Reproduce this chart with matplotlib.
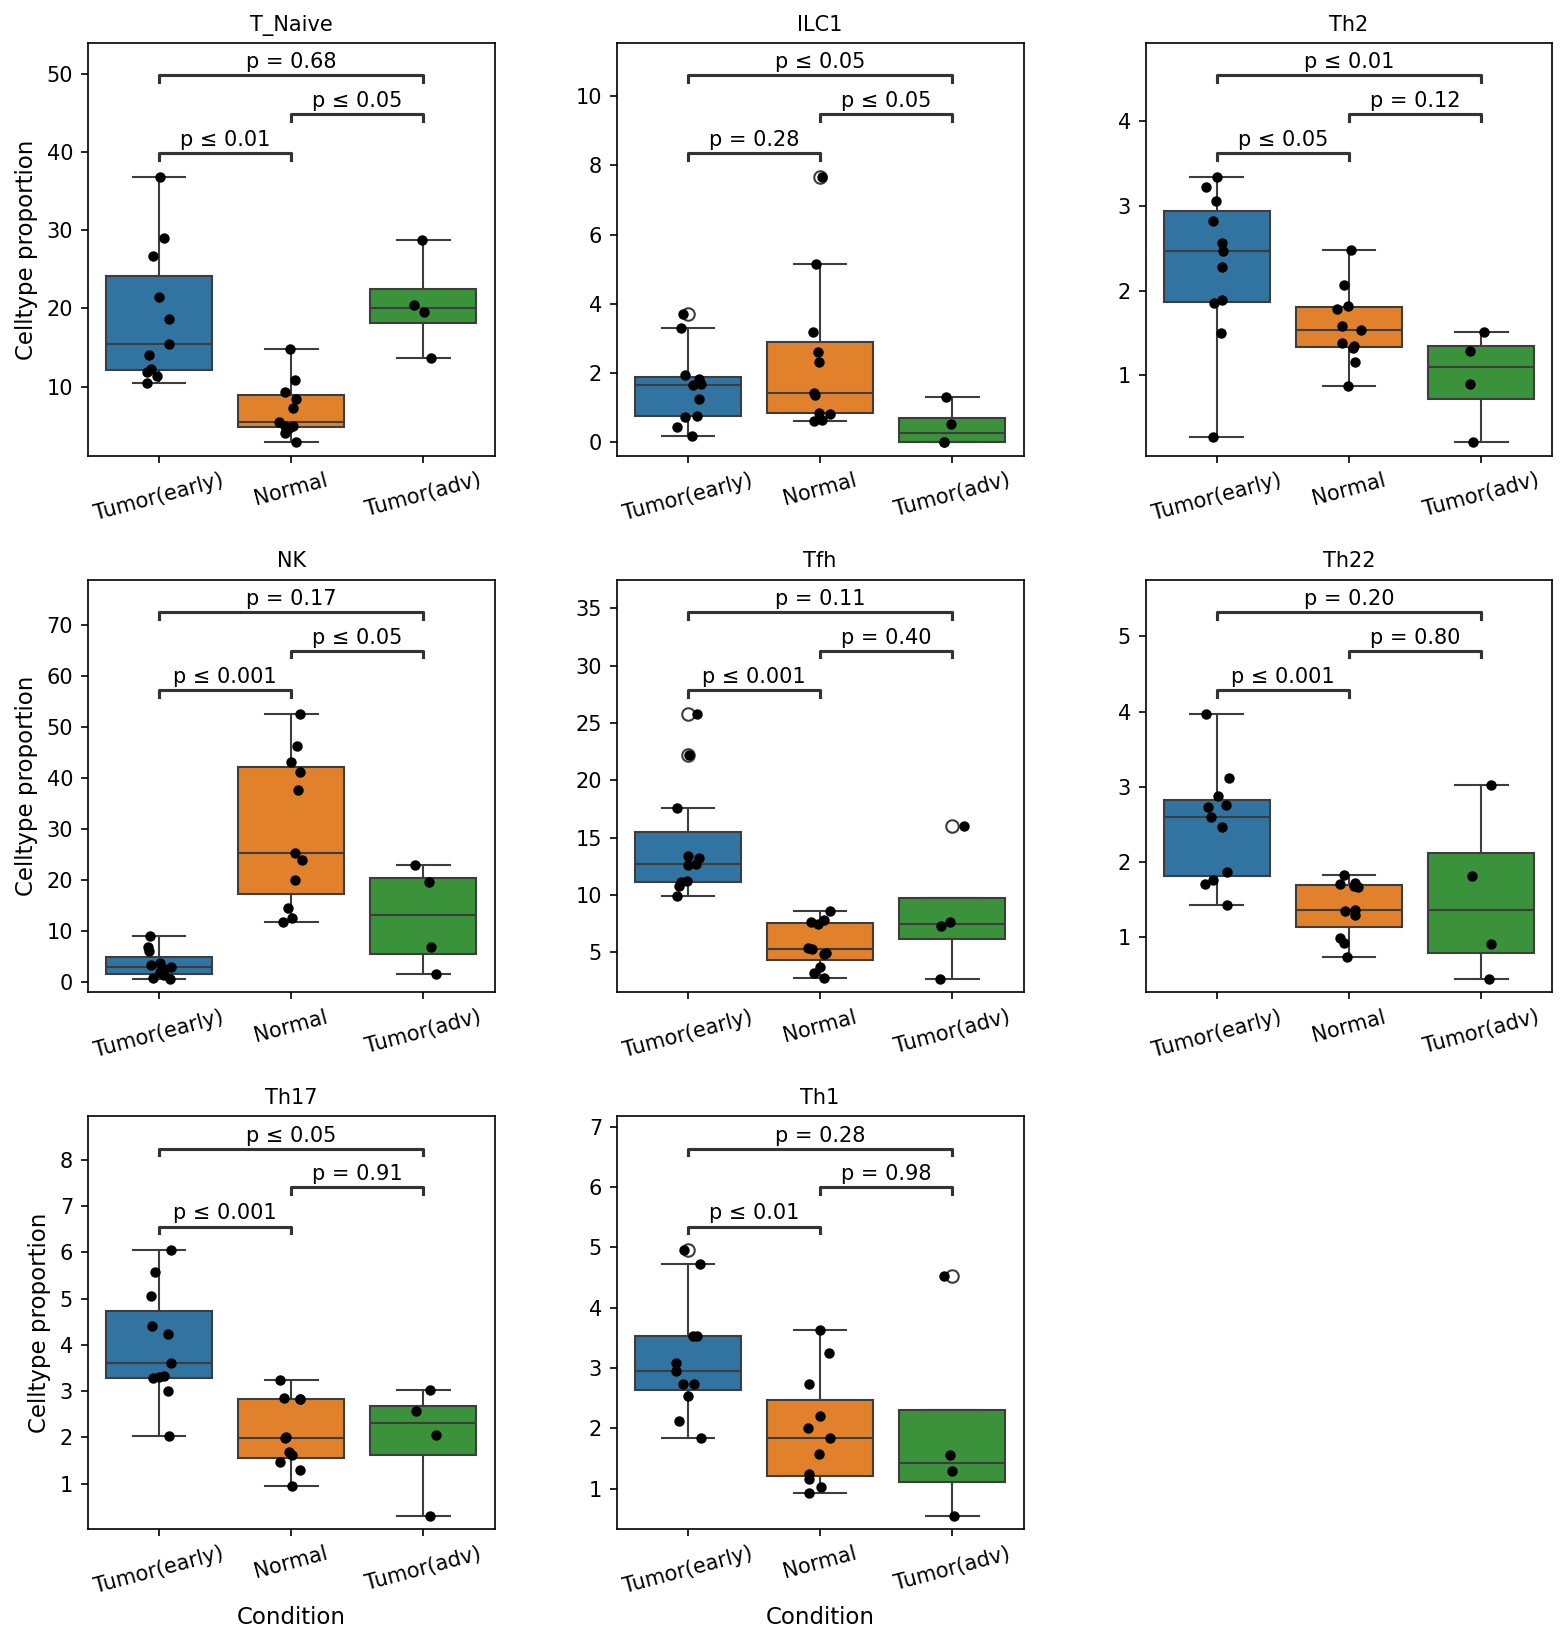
import numpy as np
import pandas as pd
import matplotlib
matplotlib.use('Agg')
import matplotlib.pyplot as plt
import seaborn as sns

# conditions in plot order
conditions = ['Tumor(early)', 'Normal', 'Tumor(adv)']

# celltype proportions, one list per condition
t_naive = {'Tumor(early)': [36.8, 29.0, 26.7, 21.5, 18.6, 15.4, 14.0, 12.3, 11.9, 11.4, 10.5],
           'Normal': [14.8, 10.85, 9.3, 8.45, 7.3, 5.5, 5.0, 4.95, 4.7, 4.05, 2.85],
           'Tumor(adv)': [28.7, 20.5, 19.6, 13.65]}
ilc1 = {'Tumor(early)': [3.70, 3.30, 1.94, 1.84, 1.68, 1.66, 1.26, 0.76, 0.74, 0.45, 0.19],
        'Normal': [7.66, 5.16, 3.20, 2.62, 2.33, 1.42, 1.38, 0.85, 0.83, 0.66, 0.61],
        'Tumor(adv)': [1.30, 0.52, 0.0, 0.0]}
th2 = {'Tumor(early)': [3.34, 3.22, 3.06, 2.82, 2.56, 2.47, 2.28, 1.89, 1.85, 1.50, 0.28],
       'Normal': [2.48, 2.07, 1.82, 1.79, 1.58, 1.54, 1.38, 1.35, 1.33, 1.16, 0.875],
       'Tumor(adv)': [1.51, 1.29, 0.90, 0.21]}
nk = {'Tumor(early)': [8.9, 6.7, 6.0, 3.7, 3.3, 2.8, 2.4, 1.8, 1.2, 0.65, 0.5],
      'Normal': [52.6, 46.3, 43.2, 41.2, 37.7, 25.2, 23.8, 19.9, 14.4, 12.4, 11.8],
      'Tumor(adv)': [22.9, 19.5, 6.7, 1.4]}
tfh = {'Tumor(early)': [25.8, 22.2, 17.57, 13.4, 13.2, 12.7, 12.6, 11.2, 11.1, 10.75, 9.9],
       'Normal': [8.58, 7.76, 7.65, 7.45, 5.4, 5.28, 4.95, 4.85, 3.7, 3.17, 2.73],
       'Tumor(adv)': [16.04, 7.6, 7.3, 2.65]}
th22 = {'Tumor(early)': [3.97, 3.12, 2.88, 2.76, 2.73, 2.59, 2.46, 1.86, 1.76, 1.71, 1.42],
        'Normal': [1.82, 1.72, 1.70, 1.68, 1.67, 1.36, 1.35, 1.29, 0.98, 0.92, 0.73],
        'Tumor(adv)': [3.02, 1.81, 0.90, 0.44]}
th17 = {'Tumor(early)': [6.04, 5.57, 5.06, 4.40, 4.24, 3.60, 3.33, 3.30, 3.28, 3.00, 2.03],
        'Normal': [3.24, 2.86, 2.84, 2.84, 2.01, 1.99, 1.69, 1.63, 1.47, 1.30, 0.94],
        'Tumor(adv)': [3.02, 2.57, 2.05, 0.31]}
th1 = {'Tumor(early)': [4.95, 4.73, 3.53, 3.53, 3.08, 2.95, 2.73, 2.73, 2.53, 2.13, 1.85],
       'Normal': [3.63, 3.25, 2.73, 2.21, 2.01, 1.85, 1.58, 1.25, 1.17, 1.03, 0.93],
       'Tumor(adv)': [4.53, 1.56, 1.29, 0.555]}

celltypes = ['T_Naive', 'ILC1', 'Th2', 'NK', 'Tfh', 'Th22', 'Th17', 'Th1']
celltype_data = [t_naive, ilc1, th2, nk, tfh, th22, th17, th1]

# p-value labels: early vs normal, normal vs adv, early vs adv
pvals = [['p ≤ 0.01', 'p ≤ 0.05', 'p = 0.68'],
         ['p = 0.28', 'p ≤ 0.05', 'p ≤ 0.05'],
         ['p ≤ 0.05', 'p = 0.12', 'p ≤ 0.01'],
         ['p ≤ 0.001', 'p ≤ 0.05', 'p = 0.17'],
         ['p ≤ 0.001', 'p = 0.40', 'p = 0.11'],
         ['p ≤ 0.001', 'p = 0.80', 'p = 0.20'],
         ['p ≤ 0.001', 'p = 0.91', 'p ≤ 0.05'],
         ['p ≤ 0.01', 'p = 0.98', 'p = 0.28']]
pairs = [(0, 1), (1, 2), (0, 2)]

np.random.seed(3)

fig, axes = plt.subplots(3, 3, figsize=(1568 / 150, 1644 / 150), dpi=150)
fig.subplots_adjust(left=0.0559, right=0.9901, top=0.9737, bottom=0.0700,
                    wspace=0.30, hspace=0.301)
axes = axes.flatten()

for i, (name, d) in enumerate(zip(celltypes, celltype_data)):
    ax = axes[i]
    rows = []
    for c in conditions:
        for v in d[c]:
            rows.append((c, v))
    df = pd.DataFrame(rows, columns=['Condition', 'proportion'])

    sns.boxplot(data=df, x='Condition', y='proportion', hue='Condition',
                order=conditions, hue_order=conditions, legend=False, ax=ax,
                flierprops={'marker': 'o', 'markerfacecolor': 'none'})
    sns.stripplot(data=df, x='Condition', y='proportion', order=conditions,
                  color='black', size=5, jitter=True, ax=ax)

    # y range like the stats-annotation layout
    lo_v = df['proportion'].min()
    hi_v = df['proportion'].max()
    r = hi_v - lo_v
    lo = lo_v - 0.05 * r
    ax.set_ylim(lo, lo + 1.555 * r)

    # significance brackets (x in data, y in axes fraction)
    trans = ax.get_xaxis_transform()
    levels = [0.733, 0.828, 0.922]
    for (a, b), lab, yb in zip(pairs, pvals[i], levels):
        ax.plot([a, a, b, b], [yb - 0.016, yb, yb, yb - 0.016], color='0.2',
                lw=1.5, transform=trans, clip_on=False)
        ax.annotate(lab, xy=((a + b) / 2, yb), xycoords=trans,
                    xytext=(0, 1.5), textcoords='offset points',
                    ha='center', va='bottom', fontsize=10)

    ax.set_title(name, fontsize=10)
    ax.tick_params(axis='x', labelrotation=15)
    if i % 3 == 0:
        ax.set_ylabel('Celltype proportion', fontsize=11)
    else:
        ax.set_ylabel('')
    if i >= 6:
        ax.set_xlabel('Condition', fontsize=11)
    else:
        ax.set_xlabel('')

axes[8].remove()

plt.savefig('out.png', dpi=150)
